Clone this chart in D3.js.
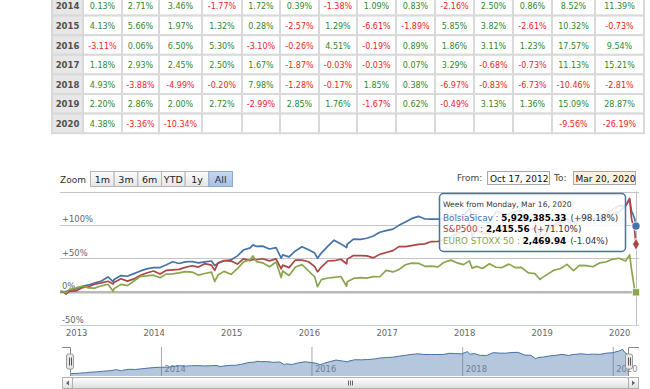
<!DOCTYPE html>
<html>
<head>
<meta charset="utf-8">
<title>BolsiaSicav vs S&amp;P500 vs EURO STOXX 50</title>
<script src="https://cdn.jsdelivr.net/npm/d3@7"></script>
<style>
body { margin: 0; background: #fff; }
svg text { font-family: "DejaVu Sans", Verdana, sans-serif; }
.cell { font-size: 8px; text-anchor: middle; }
.pos { fill: #2c8a2c; }
.neg { fill: #f01c1c; }
.year { font-size: 8.5px; font-weight: bold; fill: #505050; text-anchor: middle; }
.axis text { font-size: 8.4px; fill: #666; }
.axis path { display: none; }
.navaxis text { font-size: 8.4px; fill: #888; }
.navaxis line { stroke: #a8a8a8; }
.navaxis path { display: none; }
</style>
</head>
<body>
<svg id="chart" width="650" height="389"></svg>
<script>
// monthly returns table (months Jan..Dec, then year total and last column)
var tableYears = ["2014", "2015", "2016", "2017", "2018", "2019", "2020"];
var ret2014 = [0.13, 2.71, 3.46, -1.77, 1.72, 0.39, -1.38, 1.09, 0.83, -2.16, 2.50, 0.86, 8.52, 11.39];
var ret2015 = [4.13, 5.66, 1.97, 1.32, 0.28, -2.57, 1.29, -6.61, -1.89, 5.85, 3.82, -2.61, 10.32, -0.73];
var ret2016 = [-3.11, 0.06, 6.50, 5.30, -3.10, -0.26, 4.51, -0.19, 0.89, 1.86, 3.11, 1.23, 17.57, 9.54];
var ret2017 = [1.18, 2.93, 2.45, 2.50, 1.67, -1.87, -0.03, -0.03, 0.07, 3.29, -0.68, -0.73, 11.13, 15.21];
var ret2018 = [4.93, -3.88, -4.99, -0.20, 7.98, -1.28, -0.17, 1.85, 0.38, -6.97, -0.83, -6.73, -10.46, -2.81];
var ret2019 = [2.20, 2.86, 2.00, 2.72, -2.99, 2.85, 1.76, -1.67, 0.62, -0.49, 3.13, 1.36, 15.09, 28.87];
var ret2020 = [4.38, -3.36, -10.34, null, null, null, null, null, null, null, null, null, -9.56, -26.19];
var tableRows = [ret2014, ret2015, ret2016, ret2017, ret2018, ret2019, ret2020];

// chart series, % change since first point
var weekDates = [
 "2012-10-17","2012-10-31","2012-11-15","2012-11-30","2012-12-31",
 "2013-01-31","2013-02-28","2013-03-28","2013-04-30","2013-05-31","2013-06-24","2013-06-28","2013-07-31","2013-08-30","2013-09-30","2013-10-31","2013-11-29","2013-12-31",
 "2014-01-31","2014-02-28","2014-03-31","2014-04-30","2014-05-30","2014-06-30","2014-07-31","2014-08-29","2014-09-30","2014-10-15","2014-10-31","2014-11-28","2014-12-31",
 "2015-01-30","2015-02-27","2015-03-31","2015-04-13","2015-04-30","2015-05-29","2015-06-30","2015-07-31","2015-08-24","2015-08-31","2015-09-30","2015-10-30","2015-11-30","2015-12-31",
 "2016-01-29","2016-02-11","2016-02-29","2016-03-31","2016-04-29","2016-05-31","2016-06-27","2016-06-30","2016-07-29","2016-08-31","2016-09-30","2016-10-31","2016-11-30","2016-12-30",
 "2017-01-31","2017-02-28","2017-03-31","2017-04-28","2017-05-31","2017-06-30","2017-07-31","2017-08-31","2017-09-29","2017-10-31","2017-11-30","2017-12-29",
 "2018-01-26","2018-02-08","2018-02-28","2018-03-29","2018-04-30","2018-05-31","2018-06-29","2018-07-31","2018-08-31","2018-09-28","2018-10-31","2018-11-30","2018-12-24","2018-12-31",
 "2019-01-31","2019-02-28","2019-03-29","2019-04-30","2019-05-31","2019-06-28","2019-07-31","2019-08-30","2019-09-30","2019-10-31","2019-11-29","2019-12-31",
 "2020-01-31","2020-02-19","2020-02-28","2020-03-13","2020-03-20"
];
var fundPct = [
 0, -0.5, 0.5, 2, 4,
 8, 10, 13, 16, 22, 15, 18, 24, 23, 27, 31, 34, 36,
 36.1, 39.8, 44.7, 42.1, 44.5, 45.1, 43.1, 44.7, 45.9, 39, 42.7, 46.3, 47.5,
 53.6, 62.3, 65.5, 70, 67.7, 68.2, 63.9, 66.0, 50, 55.0, 52.1, 61.0, 67.1, 62.8,
 57.7, 50, 57.8, 68.1, 77.0, 71.5, 66, 71.0, 78.7, 78.4, 80.0, 83.3, 89.0, 91.4,
 93.6, 99.3, 104.2, 109.3, 112.8, 108.8, 108.7, 108.7, 108.8, 115.7, 114.2, 112.7,
 125, 110, 114.5, 103.8, 103.4, 119.6, 116.8, 116.4, 120.4, 121.3, 105.8, 104.1, 84, 90.4,
 94.6, 100.1, 104.1, 109.7, 103.4, 109.2, 112.9, 109.3, 110.6, 109.6, 116.2, 119.1,
 128.7, 138, 121.0, 110, 98.18
];
var sp500Pct = [
 0, 0.0, -3.7, 0.3, 1.0,
 6.1, 7.3, 11.1, 13.2, 15.5, 11.4, 13.8, 19.4, 15.7, 19.1, 24.5, 27.9, 30.9,
 26.3, 31.7, 32.6, 33.4, 36.3, 38.8, 36.8, 41.9, 39.7, 31.9, 42.9, 46.5, 45.8,
 41.3, 49.1, 46.5, 48.2, 47.8, 49.2, 46.1, 49.0, 34.1, 39.7, 36.0, 47.3, 47.3, 44.8,
 37.4, 29.6, 36.8, 45.9, 46.3, 48.5, 41.7, 48.7, 54.0, 53.8, 53.6, 50.6, 55.8, 58.6,
 61.4, 67.4, 67.4, 68.9, 70.8, 71.6, 75.0, 75.1, 78.4, 82.4, 87.6, 89.4,
 103.5, 82.8, 92.2, 87.1, 87.6, 91.6, 92.5, 99.5, 105.6, 106.4, 92.1, 95.5, 66.5, 77.6,
 91.5, 97.2, 100.7, 108.7, 94.9, 108.4, 111.1, 107.3, 110.9, 115.2, 122.5, 128.9,
 128.5, 139.8, 109.2, 92.0, 71.1
];
var stoxxPct = [
 0, 0.3, -1.8, 3.2, 5.6,
 8.3, 5.5, 5.1, 8.7, 11.0, 0.6, 4.3, 10.9, 9.0, 15.9, 22.9, 23.6, 24.6,
 20.7, 26.2, 26.7, 28.1, 30.0, 29.3, 24.8, 27.1, 29.3, 15.2, 24.8, 30.3, 26.0,
 34.3, 44.2, 48.1, 53.4, 44.9, 43.1, 37.2, 44.3, 21.0, 31.0, 24.2, 36.9, 40.5, 30.9,
 22.0, 7.4, 18.0, 20.4, 21.3, 22.7, 8.1, 14.8, 19.8, 21.1, 20.3, 22.4, 22.3, 31.9,
 29.5, 33.0, 40.3, 42.6, 42.4, 37.9, 38.2, 37.1, 44.0, 47.2, 43.0, 40.4,
 46.1, 35.0, 37.8, 34.7, 41.7, 36.5, 36.1, 41.2, 35.9, 36.2, 28.1, 27.1, 18.2, 20.2,
 26.6, 32.1, 34.3, 40.8, 31.4, 39.2, 38.9, 37.3, 43.0, 44.4, 48.4, 50.0,
 45.8, 54.9, 33.4, 3.6, -1.04
];
var seriesNames = ["BolsiaSicav", "S&P500", "EURO STOXX 50"];
var seriesColors = ["#4572a7", "#aa4643", "#89a54e"];
var lastValues = ["5,929,385.33", "2,415.56", "2,469.94"];
var yTicks = [-50, 0, 50, 100, 150];
var xTickYears = ["2013", "2014", "2015", "2016", "2017", "2018", "2019", "2020"];
var navTickYears = ["2014", "2016", "2018", "2020"];
var rangeButtons = ["1m", "3m", "6m", "YTD", "1y", "All"];
var tooltipHeader = "Week from Monday, Mar 16, 2020";

var parse = d3.timeParse("%Y-%m-%d");
var dates = weekDates.map(parse);
var svg = d3.select("#chart");
var defs = svg.append("defs");

// ---------- table ----------
var colEdges = [52, 83, 122, 159, 202, 242, 280, 319, 357, 396, 435, 474, 513, 552, 595, 644];
var rowTop = -4, rowH = 19.6;
var cells = [];
tableRows.forEach(function(r, i) {
  cells.push({row: i, col: 0, text: tableYears[i], year: true});
  r.forEach(function(v, j) {
    cells.push({row: i, col: j + 1, value: v,
                text: v === null ? "" : v.toFixed(2) + "%"});
  });
});
var table = svg.append("g");
table.selectAll("rect").data(cells).enter().append("rect")
  .attr("x", function(d) { return colEdges[d.col]; })
  .attr("y", function(d) { return rowTop + d.row * rowH; })
  .attr("width", function(d) { return colEdges[d.col + 1] - colEdges[d.col]; })
  .attr("height", rowH)
  .attr("fill", function(d) { return d.year ? "#e7e7e7" : "#fff"; })
  .attr("stroke", "#d9d9d9")
  .attr("stroke-width", 2);
table.selectAll("text").data(cells).enter().append("text")
  .attr("class", function(d) { return d.year ? "year" : "cell " + (d.value < 0 ? "neg" : "pos"); })
  .attr("x", function(d) { return (colEdges[d.col] + colEdges[d.col + 1]) / 2; })
  .attr("y", function(d) { return rowTop + (d.row + 1) * rowH - 6.3; })
  .text(function(d) { return d.text; });

// ---------- range selector ----------
var btnGrad = defs.append("linearGradient").attr("id", "btn").attr("x1", 0).attr("y1", 0).attr("x2", 0).attr("y2", 1);
btnGrad.append("stop").attr("offset", "0").attr("stop-color", "#fbfbfb");
btnGrad.append("stop").attr("offset", "1").attr("stop-color", "#e6e6e6");
var selGrad = defs.append("linearGradient").attr("id", "btnsel").attr("x1", 0).attr("y1", 0).attr("x2", 0).attr("y2", 1);
selGrad.append("stop").attr("offset", "0").attr("stop-color", "#c6d8ef");
selGrad.append("stop").attr("offset", "1").attr("stop-color", "#a9c1e3");

svg.append("text").attr("x", 60).attr("y", 183).attr("font-size", "9px").attr("fill", "#333").text("Zoom");
var bx = d3.scaleBand().domain(rangeButtons).range([90, 232]);
var btn = svg.append("g").selectAll("g").data(rangeButtons).enter().append("g")
  .attr("transform", function(d) { return "translate(" + bx(d) + ",171)"; });
btn.append("rect").attr("x", 0.5).attr("y", 0.5)
  .attr("width", bx.bandwidth()).attr("height", 15)
  .attr("fill", function(d) { return d === "All" ? "url(#btnsel)" : "url(#btn)"; })
  .attr("stroke", function(d) { return d === "All" ? "#8ea8cc" : "#b5b5b5"; });
btn.append("text").attr("x", bx.bandwidth() / 2 + 0.5).attr("y", 12)
  .attr("text-anchor", "middle").attr("font-size", "9.5px")
  .attr("fill", function(d) { return d === "All" ? "#1a2a44" : "#222"; })
  .text(function(d) { return d; });

svg.append("text").attr("x", 457).attr("y", 181).attr("font-size", "9px").attr("fill", "#444").text("From:");
svg.append("rect").attr("x", 487.5).attr("y", 171.5).attr("width", 62).attr("height", 13)
  .attr("fill", "#fff").attr("stroke", "#a8a8a8");
svg.append("text").attr("x", 490).attr("y", 181.5).attr("font-size", "9px").attr("fill", "#111").text("Oct 17, 2012");
svg.append("text").attr("x", 554).attr("y", 181).attr("font-size", "9px").attr("fill", "#444").text("To:");
svg.append("rect").attr("x", 573.5).attr("y", 171.5).attr("width", 62).attr("height", 13)
  .attr("fill", "#fbf1de").attr("stroke", "#a8a8a8");
svg.append("text").attr("x", 575.5).attr("y", 181.5).attr("font-size", "9px").attr("fill", "#111").text("Mar 20, 2020");

// ---------- main plot ----------
var plotLeft = 60, plotRight = 639;
var x = d3.scaleTime().domain([dates[0], dates[dates.length - 1]]).range([60, 636]);
var y = d3.scaleLinear().domain([-50, 150]).range([325, 191.5]);

svg.append("g").selectAll("line").data(yTicks.filter(function(t) { return t > -50; })).enter().append("line")
  .attr("x1", plotLeft).attr("x2", plotRight)
  .attr("y1", function(d) { return Math.round(y(d)) + 0.5; })
  .attr("y2", function(d) { return Math.round(y(d)) + 0.5; })
  .attr("stroke", "#c4c4c4").attr("stroke-width", 1);
// compare base line at 0%
svg.append("line").attr("x1", plotLeft).attr("x2", plotRight)
  .attr("y1", y(0) + 0.5).attr("y2", y(0) + 0.5)
  .attr("stroke", "#b8b8b8").attr("stroke-width", 2.5);
// x axis line
svg.append("line").attr("x1", plotLeft).attr("x2", plotRight)
  .attr("y1", 325.5).attr("y2", 325.5).attr("stroke", "#c0d0e0");

var yAxis = svg.append("g").attr("class", "axis").attr("transform", "translate(" + plotLeft + ",0)")
  .call(d3.axisRight(y).tickValues(yTicks.filter(function(t) { return t < 150; }))
        .tickSize(0).tickPadding(2)
        .tickFormat(function(d) { return (d > 0 ? "+" : "") + d + "%"; }));
yAxis.selectAll("text").attr("dy", "-3");

svg.append("g").attr("class", "axis").attr("transform", "translate(0,325)")
  .call(d3.axisBottom(x).tickValues(xTickYears.map(function(s) { return parse(s + "-01-01"); }))
        .tickSize(0).tickPadding(5).tickFormat(d3.timeFormat("%Y")));

// crosshair
var lastX = x(dates[dates.length - 1]);
svg.append("line").attr("x1", Math.round(lastX) + 0.5).attr("x2", Math.round(lastX) + 0.5)
  .attr("y1", 191.5).attr("y2", 325).attr("stroke", "#c0c0c0");

var allSeries = [fundPct, sp500Pct, stoxxPct];
var line = d3.line()
  .x(function(d, i) { return x(dates[i]); })
  .y(function(d) { return y(d); });
svg.append("g").selectAll("path").data(allSeries).enter().append("path")
  .attr("d", line)
  .attr("fill", "none")
  .attr("stroke", function(d, i) { return seriesColors[i]; })
  .attr("stroke-width", 1.7)
  .attr("stroke-linejoin", "round");

// hover markers
var markerTypes = [d3.symbolCircle, d3.symbolDiamond, d3.symbolSquare];
svg.append("g").selectAll("path").data(allSeries).enter().append("path")
  .attr("d", function(d, i) { return d3.symbol().type(markerTypes[i]).size(i === 1 ? 42 : 52)(); })
  .attr("transform", function(d) { return "translate(" + lastX + "," + y(d[d.length - 1]) + ")"; })
  .attr("fill", function(d, i) { return seriesColors[i]; })
  .attr("stroke", "#fff").attr("stroke-width", 0.8);

// tooltip
var tip = svg.append("g");
tip.append("rect").attr("x", 439.5).attr("y", 193.5).attr("width", 186).attr("height", 58).attr("rx", 4)
  .attr("fill", "rgba(255,255,255,0.86)").attr("stroke", "#4572a7").attr("stroke-width", 1.5);
tip.append("text").attr("x", 443).attr("y", 207).attr("font-size", "7.6px").attr("fill", "#333").text(tooltipHeader);
var tipLines = tip.selectAll("text.row").data(seriesNames).enter().append("text")
  .attr("class", "row").attr("x", 443)
  .attr("y", function(d, i) { return 220.5 + i * 11.6; })
  .attr("font-size", "8.8px");
tipLines.append("tspan").attr("fill", function(d, i) { return seriesColors[i]; }).text(function(d) { return d + " : "; });
tipLines.append("tspan").attr("font-weight", "bold").attr("fill", "#000").text(function(d, i) { return lastValues[i]; });
tipLines.append("tspan").attr("fill", "#333").attr("dx", 4).text(function(d, i) {
  var v = allSeries[i][allSeries[i].length - 1];
  return "(" + (v >= 0 ? "+" : "") + v.toFixed(2) + "%)";
});

// ---------- navigator ----------
var navTop = 347, navBottom = 376;
var nx = d3.scaleTime().domain(x.domain()).range([70, 629]);
var fMin = d3.min(fundPct), fMax = d3.max(fundPct), pad = (fMax - fMin) * 0.1;
var ny = d3.scaleLinear().domain([fMin - pad, fMax + pad]).range([navBottom, navTop]);

var navAxis = svg.append("g").attr("class", "navaxis").attr("transform", "translate(0," + navBottom + ")")
  .call(d3.axisBottom(nx).tickValues(navTickYears.map(function(s) { return parse(s + "-01-01"); }))
        .tickSize(-(navBottom - navTop)).tickFormat(d3.timeFormat("%Y")));
navAxis.selectAll("text").attr("text-anchor", "start").attr("x", 3).attr("y", -4).attr("dy", 0);

svg.append("path").datum(fundPct)
  .attr("d", d3.area().x(function(d, i) { return nx(dates[i]); }).y0(navBottom).y1(function(d) { return ny(d); }))
  .attr("fill", "#4572a7").attr("fill-opacity", 0.4);
svg.append("path").datum(fundPct)
  .attr("d", d3.line().x(function(d, i) { return nx(dates[i]); }).y(function(d) { return ny(d); }))
  .attr("fill", "none").attr("stroke", "#4572a7").attr("stroke-width", 1);

// navigator outline and handles
svg.append("path")
  .attr("d", "M62," + (navTop + 0.5) + "H" + (nx.range()[0] + 0.5) + "V" + navBottom +
             "M" + (nx.range()[1] - 0.5) + "," + navBottom + "V" + (navTop + 0.5) + "H639")
  .attr("fill", "none").attr("stroke", "#8a8a8a");
var handles = svg.append("g").selectAll("g").data(nx.range()).enter().append("g")
  .attr("transform", function(d) { return "translate(" + Math.round(d) + "," + ((navTop + navBottom) / 2) + ")"; });
handles.append("rect").attr("x", -3.5).attr("y", -7.5).attr("width", 7).attr("height", 15).attr("rx", 2)
  .attr("fill", "#ebe7e8").attr("stroke", "#9a9a9a");
handles.selectAll("line").data([-1, 1]).enter().append("line")
  .attr("x1", function(d) { return d + 0.5; }).attr("x2", function(d) { return d + 0.5; })
  .attr("y1", -4).attr("y2", 4).attr("stroke", "#555");

// scrollbar
var sbTop = 377, sbH = 11;
var sbGrad = defs.append("linearGradient").attr("id", "sb").attr("x1", 0).attr("y1", 0).attr("x2", 0).attr("y2", 1);
sbGrad.append("stop").attr("offset", "0").attr("stop-color", "#ffffff");
sbGrad.append("stop").attr("offset", "1").attr("stop-color", "#dedede");
svg.append("rect").attr("x", 62.5).attr("y", sbTop + 0.5).attr("width", 576).attr("height", sbH)
  .attr("fill", "#eee").attr("stroke", "#c8c8c8");
svg.append("rect").attr("x", 72.5).attr("y", sbTop + 0.5).attr("width", 556).attr("height", sbH).attr("rx", 2)
  .attr("fill", "url(#sb)").attr("stroke", "#b0b0b0");
[62.5, 628.5].forEach(function(bxp, k) {
  svg.append("rect").attr("x", bxp).attr("y", sbTop + 0.5).attr("width", 10).attr("height", sbH)
    .attr("fill", "url(#sb)").attr("stroke", "#b0b0b0");
  var cx = bxp + 5, cy = sbTop + sbH / 2 + 0.5;
  svg.append("path")
    .attr("d", k === 0 ? "M" + (cx + 1.5) + "," + (cy - 2.5) + "L" + (cx - 1.5) + "," + cy + "L" + (cx + 1.5) + "," + (cy + 2.5) + "Z"
                       : "M" + (cx - 1.5) + "," + (cy - 2.5) + "L" + (cx + 1.5) + "," + cy + "L" + (cx - 1.5) + "," + (cy + 2.5) + "Z")
    .attr("fill", "#666");
});
[-2, 0, 2].forEach(function(o) {
  svg.append("line").attr("x1", 350.5 + o).attr("x2", 350.5 + o)
    .attr("y1", sbTop + 3.5).attr("y2", sbTop + sbH - 2.5).attr("stroke", "#666");
});
</script>
</body>
</html>
